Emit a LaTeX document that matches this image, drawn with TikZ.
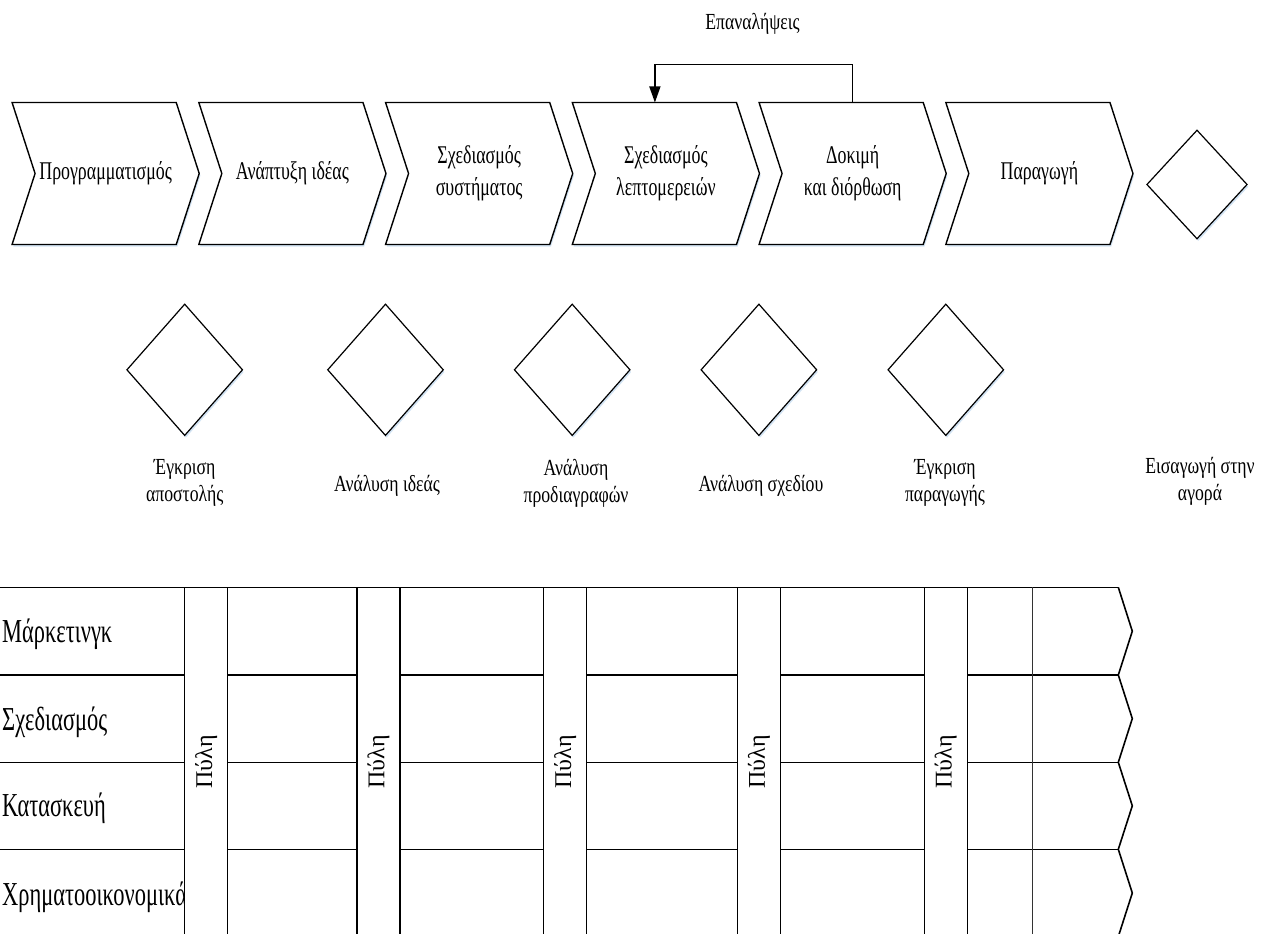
\documentclass[tikz,border=0pt]{standalone}
\usepackage{fontspec}
\setmainfont{Liberation Serif}
\newfontfamily\narrowserif{Liberation Serif}[FakeStretch=0.7]
\newfontfamily\captionserif{Liberation Serif}[FakeStretch=0.77]
\newfontfamily\laneserif{Liberation Serif}[FakeStretch=0.67]
\usetikzlibrary{shapes.geometric, arrows.meta, shadows, backgrounds}

\definecolor{shadowblue}{RGB}{205,224,242}

\newcommand\chevfont{\narrowserif\fontsize{25.5}{32}\selectfont}
\newcommand\labfont{\captionserif\fontsize{23}{26.7}\selectfont}
\newcommand\lanefont{\laneserif\fontsize{33.5}{40}\selectfont}
\newcommand\gatefont{\fontsize{24}{28}\selectfont}

\begin{document}
\begin{tikzpicture}[x=1pt, y=-1pt,
  outline/.style={draw=black, line width=1.4pt, line join=miter, fill=white},
  softshadow/.style={drop shadow={shadow xshift=1.2pt, shadow yshift=-2.2pt, fill=shadowblue, opacity=0.9}},
  phase/.style={minimum width=186.75pt, minimum height=141.6pt, inner sep=0pt,
                align=center, font=\chevfont},
  milestone/.style={diamond, draw=black, line width=1.2pt, fill=white, inner sep=0pt,
                    minimum width=116pt, minimum height=131.7pt, softshadow},
  caption/.style={align=center, font=\labfont, inner sep=0pt},
  lanename/.style={anchor=base west, font=\lanefont, inner sep=0pt},
  laneline/.style={draw=black, line width=1.6pt},
  gatebar/.style={draw=black, line width=1.3pt, fill=white, inner sep=0pt,
                  minimum width=349.3pt, minimum height=43pt, font=\gatefont},
  loop/.style={draw=black, line width=1.4pt, -{Triangle[length=16pt, width=11pt]}}
]
\useasboundingbox (0,0) rectangle (1270,934);
\clip (0,0) rectangle (1270,934);

% development phases
\node[phase] (c1) at (105.65,173.5) {Προγραμματισμός};
\node[phase] (c2) at (292.4,173.5) {Ανάπτυξη ιδέας};
\node[phase] (c3) at (479.15,173.5) {Σχεδιασμός\\συστήματος};
\node[phase] (c4) at (665.9,173.5) {Σχεδιασμός\\λεπτομερειών};
\node[phase] (c5) at (852.65,173.5) {Δοκιμή\\και διόρθωση};
\node[phase] (c6) at (1039.4,173.5) {Παραγωγή};

\begin{pgfonlayer}{background}
  \foreach \i in {1,...,6} {
    \draw[outline, softshadow] (c\i.north west) -- ([xshift=-23pt]c\i.north east)
      -- (c\i.east) -- ([xshift=-23pt]c\i.south east) -- (c\i.south west)
      -- ([xshift=23pt]c\i.west) -- cycle;
  }
\end{pgfonlayer}

% iteration loop between testing and detailed design
\node[font=\labfont, anchor=base, inner sep=0pt] (loopname) at (752.5,30) {Επαναλήψεις};
\draw[loop] (c5.north) -- ++(0,-37.7) -| ([xshift=-11pt]c4.north);

% decision gates
\node[milestone] (d1) at (184.7,369.8) {};
\node[milestone] (d2) at (385.5,369.8) {};
\node[milestone] (d3) at (572.2,369.8) {};
\node[milestone] (d4) at (758.9,369.8) {};
\node[milestone] (d5) at (945.8,369.8) {};
\node[milestone, minimum width=100.6pt, minimum height=109pt] (d6) at (1197,184.5) {};

\node[caption] (l1) at (184.7,483) {Έγκριση\\αποστολής};
\node[caption] (l2) at (387,486) {Ανάλυση ιδεάς};
\node[caption] (l3) at (576,483) {Ανάλυση\\προδιαγραφών};
\node[caption] (l4) at (761,486) {Ανάλυση σχεδίου};
\node[caption] (l5) at (945,483) {Έγκριση\\παραγωγής};
\node[caption] (l6) at (1200,481) {Εισαγωγή στην\\αγορά};

% functional swimlanes
\node[lanename] (m1) at (2,642.7) {Μάρκετινγκ};
\node[lanename] (m2) at (2,730) {Σχεδιασμός};
\node[lanename] (m3) at (2,816.7) {Κατασκευή};
\node[lanename] (m4) at (2,905) {Χρηματοοικονομικά};

\foreach \y in {587.3,675,762.3,849.3}
  \draw[laneline] (0,\y) -- (1118.3,\y);
\draw[draw=black!80, line width=1pt] (1032,587.3) -- (1032,940);
\draw[laneline, line join=miter] (1118.3,587.3) -- (1132.3,631.2) -- (1118.3,675)
  -- (1132.3,718.6) -- (1118.3,762.3) -- (1132.3,805.8) -- (1118.3,849.3)
  -- (1132.3,893) -- (1118.3,936.6);

\node[gatebar, rotate=90] (g1) at (206.2,762) {Πύλη};
\node[gatebar, rotate=90] (g2) at (378.35,762) {Πύλη};
\node[gatebar, rotate=90] (g3) at (565.2,762) {Πύλη};
\node[gatebar, rotate=90] (g4) at (759,762) {Πύλη};
\node[gatebar, rotate=90] (g5) at (945.65,762) {Πύλη};
\end{tikzpicture}
\end{document}
